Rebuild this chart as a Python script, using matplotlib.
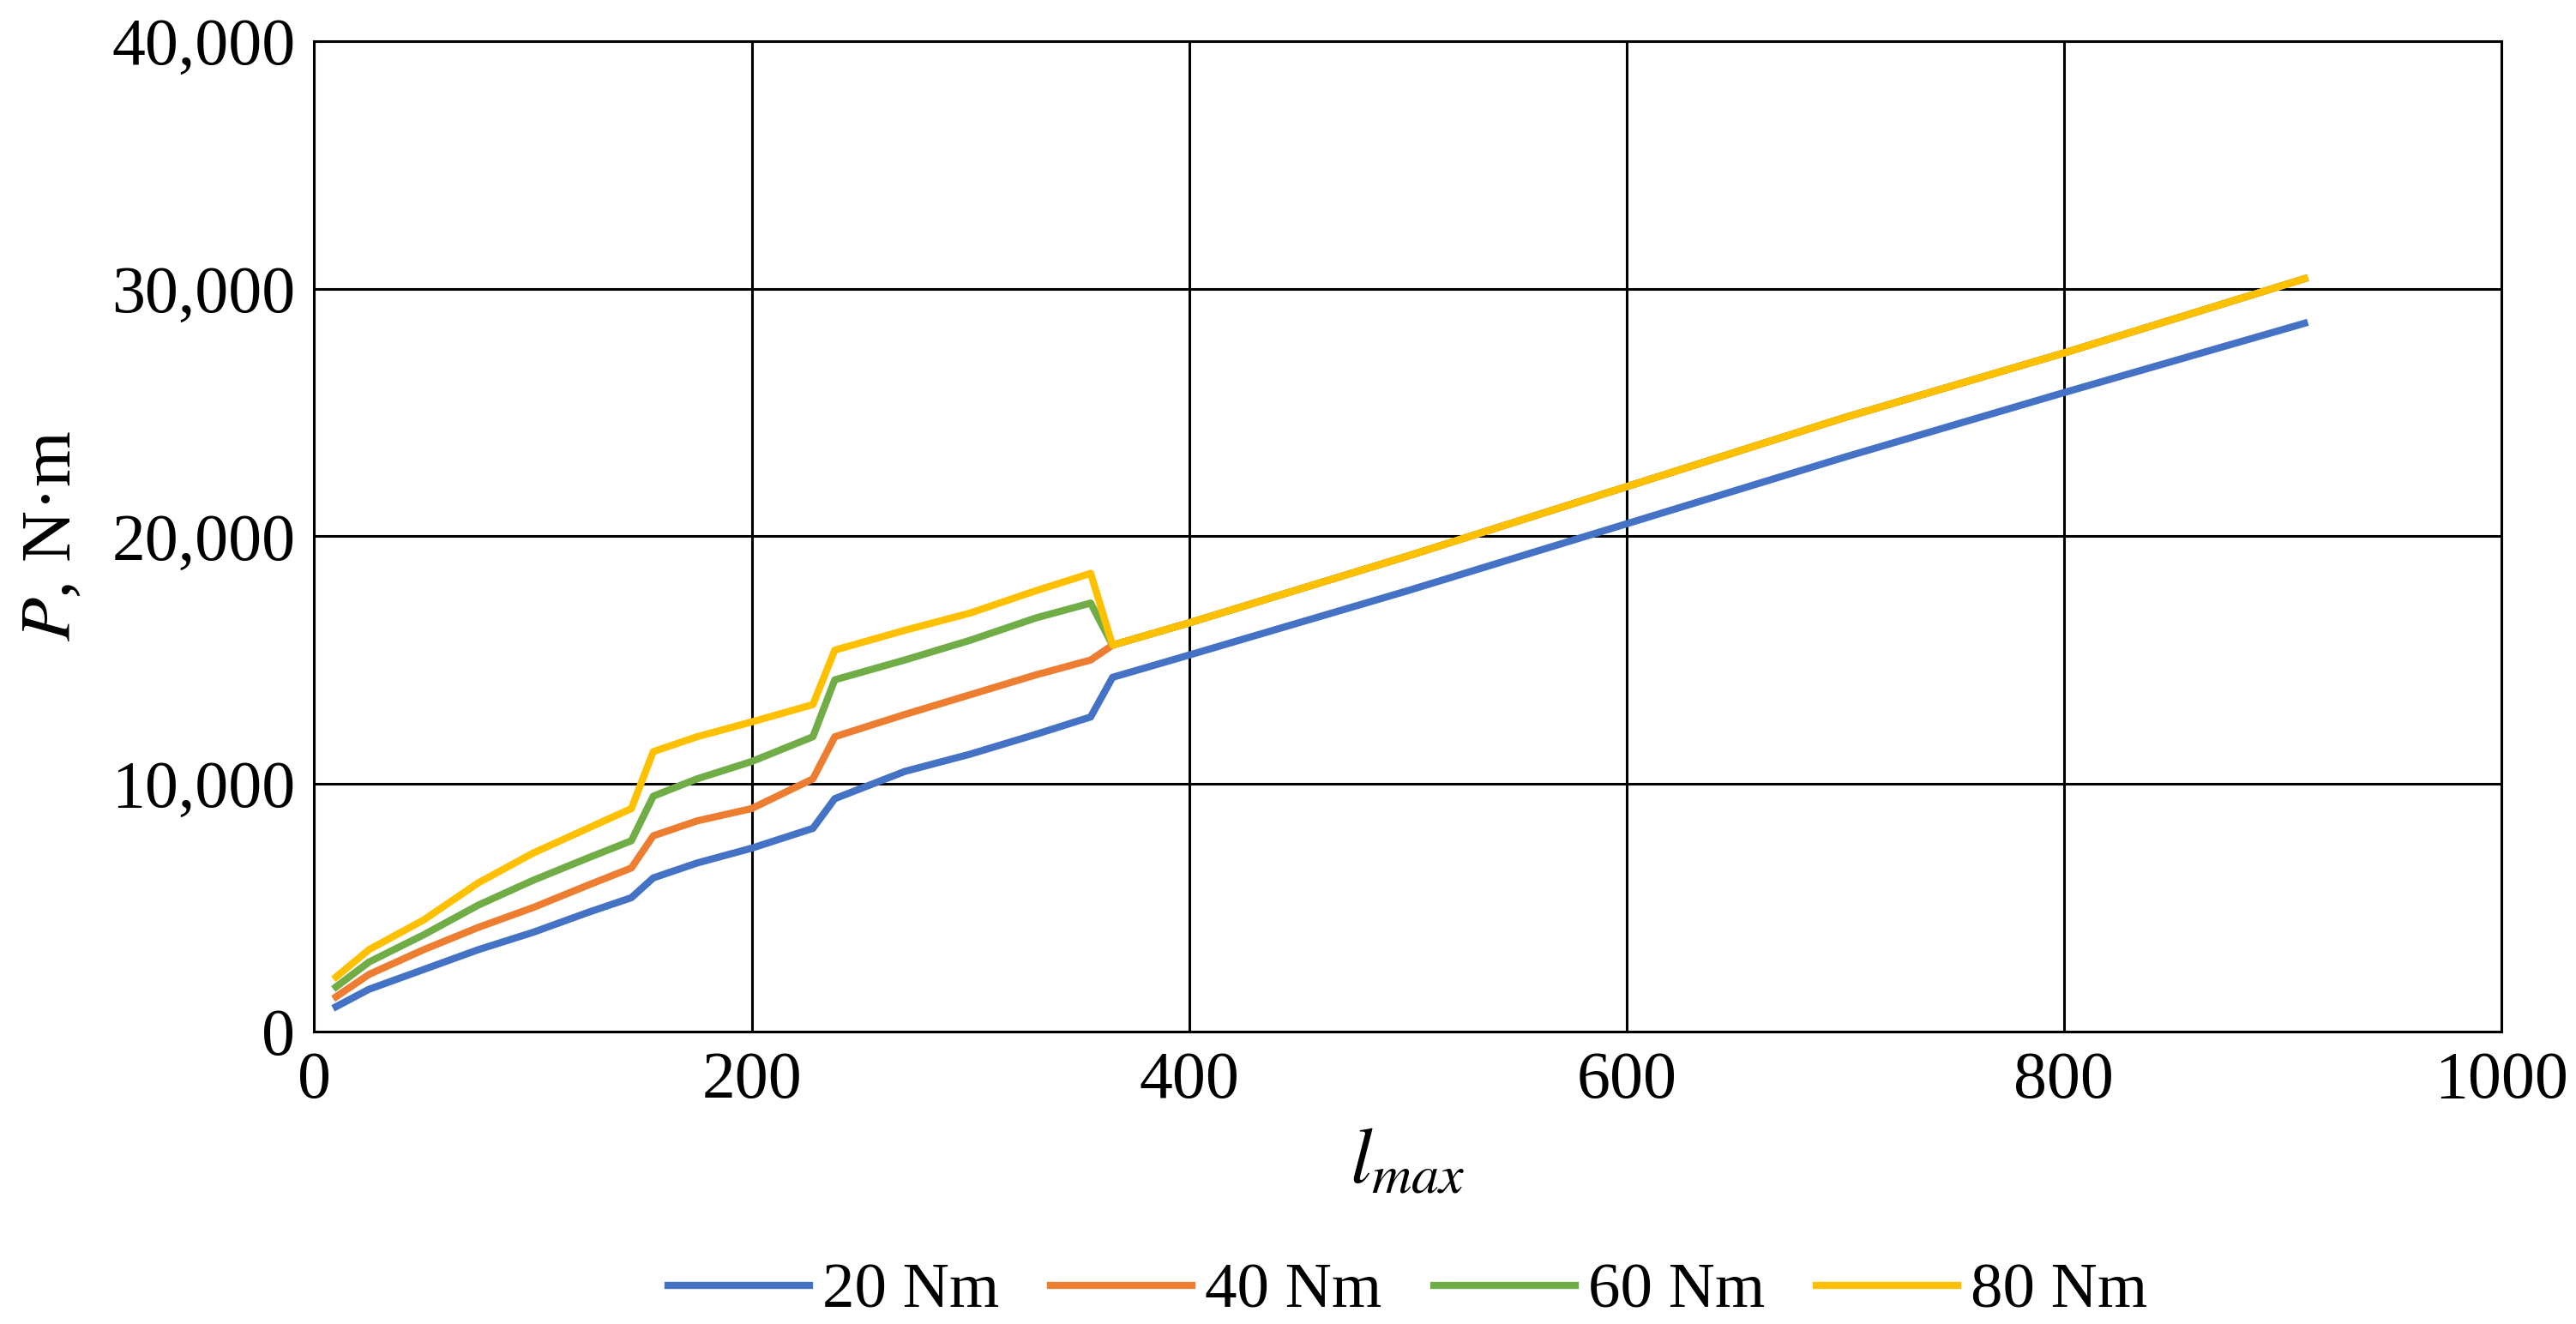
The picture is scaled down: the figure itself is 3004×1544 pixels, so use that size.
import matplotlib
matplotlib.use("Agg")
import matplotlib.pyplot as plt

x_lo = [10, 25, 50, 75, 100, 125, 145, 155, 175, 200, 228, 238, 270, 300, 330, 355, 365]
x_hi = [400, 500, 600, 700, 800, 910]
p20 = [1000, 1700, 2500, 3300, 4000, 4800, 5400, 6200, 6800, 7400, 8200, 9400, 10500, 11200, 12000, 12700, 14300] + [15200, 17800, 20500, 23200, 25800, 28600]
p40 = [1400, 2300, 3300, 4200, 5000, 5900, 6600, 7900, 8500, 9000, 10200, 11900, 12800, 13600, 14400, 15000, 15600] + [16500, 19200, 22000, 24800, 27400, 30400]
p60 = [1800, 2800, 3900, 5100, 6100, 7000, 7700, 9500, 10200, 10900, 11900, 14200, 15000, 15800, 16700, 17300, 15600] + [16500, 19200, 22000, 24800, 27400, 30400]
p80 = [2200, 3300, 4500, 6000, 7200, 8200, 9000, 11300, 11900, 12500, 13200, 15400, 16200, 16900, 17800, 18500, 15600] + [16500, 19200, 22000, 24800, 27400, 30400]
x = x_lo + x_hi
series = [("20 Nm", p20, "#4472C4"), ("40 Nm", p40, "#ED7D31"),
          ("60 Nm", p60, "#70AD47"), ("80 Nm", p80, "#FFC000")]

plt.rcParams['font.family'] = ['Liberation Serif', 'DejaVu Serif']
plt.rcParams['mathtext.fontset'] = 'stix'
fig = plt.figure(figsize=(30.04, 15.44), dpi=100)
ax = fig.add_axes([0.122, 0.221, 0.849, 0.748])
for lab, y, c in series:
    ax.plot(x, y, color=c, lw=6, label=lab)
ax.set_xlim(0, 1000)
ax.set_ylim(0, 40000)
ax.set_xticks(range(0, 1001, 200))
ax.set_yticks(range(0, 40001, 10000))
ax.set_yticklabels([f"{v:,}" for v in range(0, 40001, 10000)])
ax.grid(True, color="black", lw=2.2)
for s in ax.spines.values():
    s.set_linewidth(2.2)
ax.tick_params(labelsize=56, length=0, pad=16)
ax.set_xlabel(r"$l_{max}$", fontsize=66, labelpad=14)
ax.set_ylabel(r"$P$, N·m", fontsize=60, labelpad=22)
ax.legend(loc="upper center", bbox_to_anchor=(0.5, -0.175), ncol=4, frameon=False,
          fontsize=54, handlelength=2.2, columnspacing=0.8, handletextpad=0.2)
fig.savefig("out.png")
